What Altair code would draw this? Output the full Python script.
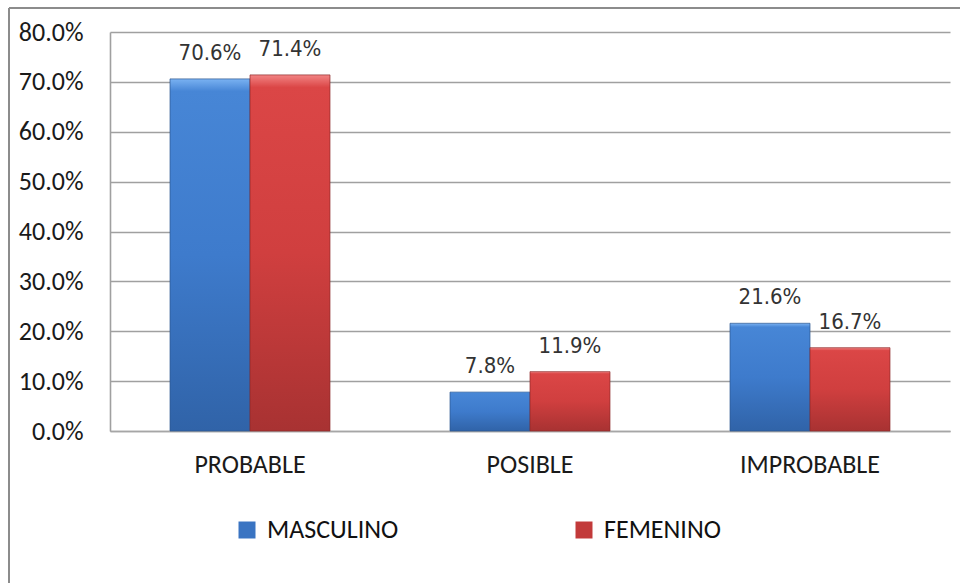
import altair as alt
import pandas as pd

# Survey results by sex
categories = ["PROBABLE", "POSIBLE", "IMPROBABLE"]
series = ["MASCULINO", "FEMENINO"]
masculino = [0.706, 0.078, 0.216]
femenino = [0.714, 0.119, 0.167]

rows = []
for i, cat in enumerate(categories):
    rows.append({"categoria": cat, "sexo": "MASCULINO", "valor": masculino[i]})
    rows.append({"categoria": cat, "sexo": "FEMENINO", "valor": femenino[i]})
df = pd.DataFrame(rows)

AXIS_FONT = "Carlito, Lato, sans-serif"
LABEL_FONT = "Liberation Sans Narrow, Arial Narrow, DejaVu Sans Condensed, sans-serif"

blue_grad = alt.Gradient(
    gradient="linear", x1=0, x2=0, y1=0, y2=1,
    stops=[
        alt.GradientStop(color="#7ab2f2", offset=0),
        alt.GradientStop(color="#4786d6", offset=0.035),
        alt.GradientStop(color="#3e7bcc", offset=0.5),
        alt.GradientStop(color="#3063a8", offset=1),
    ],
)
red_grad = alt.Gradient(
    gradient="linear", x1=0, x2=0, y1=0, y2=1,
    stops=[
        alt.GradientStop(color="#f28484", offset=0),
        alt.GradientStop(color="#db4646", offset=0.035),
        alt.GradientStop(color="#d03f3f", offset=0.5),
        alt.GradientStop(color="#a83232", offset=1),
    ],
)

x_enc = alt.X(
    "categoria:N",
    sort=categories,
    scale=alt.Scale(paddingInner=0.4286, paddingOuter=0.2143),
    axis=alt.Axis(
        title=None, labelAngle=0, ticks=False, tickSize=0, labelPadding=20,
        labelFont=AXIS_FONT, labelFontSize=26, labelColor="#1a1a1a",
        domainColor="#a6a6a6", domainWidth=1.5, grid=False,
    ),
)
xoff_enc = alt.XOffset("sexo:N", sort=series, scale=alt.Scale(domain=series, paddingInner=0, paddingOuter=0))
y_enc = alt.Y(
    "valor:Q",
    scale=alt.Scale(domain=[0, 0.8], nice=False),
    axis=alt.Axis(
        title=None, format=".1%", values=[0, 0.1, 0.2, 0.3, 0.4, 0.5, 0.6, 0.7, 0.8],
        ticks=False, tickSize=0, labelPadding=27,
        labelFont=AXIS_FONT, labelFontSize=26, labelColor="#1a1a1a",
        gridColor="#a0a0a0", gridWidth=1.6,
        domainColor="#a0a0a0", domainWidth=1.6,
    ),
)

base = alt.Chart(df).encode(x=x_enc, xOffset=xoff_enc, y=y_enc)

bars_m = base.transform_filter(alt.datum.sexo == "MASCULINO").mark_bar(
    color=blue_grad, stroke="#2b558f", strokeWidth=1, strokeOpacity=0.7
)
bars_f = base.transform_filter(alt.datum.sexo == "FEMENINO").mark_bar(
    color=red_grad, stroke="#8e2a2a", strokeWidth=1, strokeOpacity=0.7
)

# legend carrier (invisible marks, visible legend symbols)
legend_layer = base.mark_square(opacity=0).encode(
    color=alt.Color(
        "sexo:N",
        sort=series,
        scale=alt.Scale(domain=series, range=["#3a74c2", "#c23a3a"]),
        legend=alt.Legend(
            title=None, orient="none", direction="horizontal",
            legendX=124, legendY=485,
            symbolType="square", symbolSize=289, symbolOpacity=1,
            symbolStrokeWidth=0,
            labelFont=AXIS_FONT, labelFontSize=26, labelColor="#111111",
            labelOffset=7, columnPadding=172, padding=0,
        ),
    )
)

labels = base.mark_text(
    baseline="bottom", dy=-14, font=LABEL_FONT, fontSize=22, color="#333333"
).encode(text=alt.Text("valor:Q", format=".1%"))

# outer frame of the chart
frame_top = alt.Chart(df).mark_rule(color="#8c8c8c", strokeWidth=2).encode(
    x=alt.value(-101), x2=alt.value(860), y=alt.value(-24)
)
frame_left = alt.Chart(df).mark_rule(color="#8c8c8c", strokeWidth=2).encode(
    x=alt.value(-101), y=alt.value(-24), y2=alt.value(560)
)

chart = (
    alt.layer(legend_layer, bars_m, bars_f, labels, frame_top, frame_left)
    .properties(
        width=840, height=399,
        autosize=alt.AutoSizeParams(type="none"),
        padding={"left": 110, "top": 32, "right": 10, "bottom": 152},
        background="white",
    )
    .configure_view(stroke=None)
)

chart.save("out.html", embed_options={"renderer": "svg", "actions": False})
